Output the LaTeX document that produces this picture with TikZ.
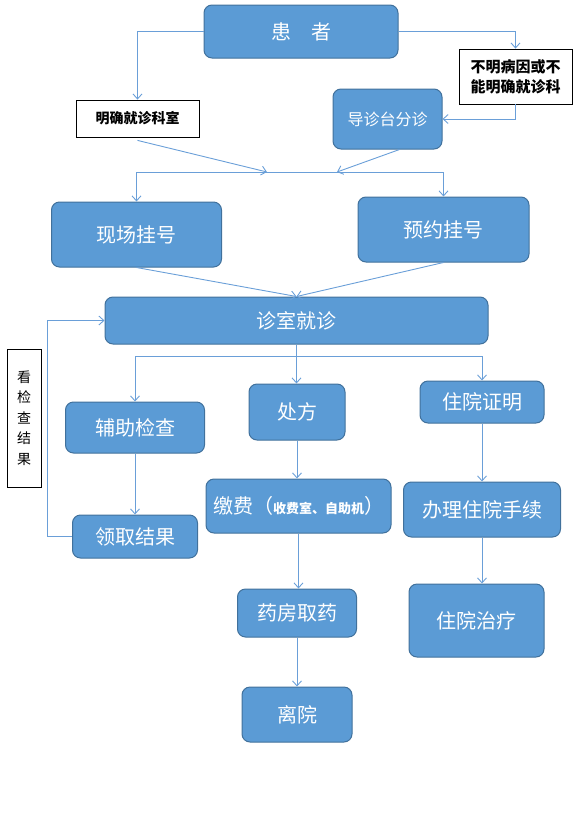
\documentclass[tikz,border=0pt]{standalone}
\usepackage{fontspec}
\setmainfont{Noto Sans CJK SC}
\usetikzlibrary{arrows.meta}
\definecolor{boxblue}{HTML}{5B9BD5}
\definecolor{boxedge}{HTML}{41719C}
\definecolor{lineblue}{HTML}{6A9FD8}
\def\big{\fontsize{20}{20}\selectfont}
\tikzset{
  sz/.style 2 args={minimum width=#1pt, minimum height=#2pt},
  blk/.style={rounded corners=8pt, fill=boxblue, draw=boxedge, line width=1pt, text=white, inner sep=0pt, font=\big},
  wbox/.style={draw=black, fill=white, line width=0.8pt, inner sep=0pt, font=\fontsize{15}{20}\selectfont\bfseries},
  ln/.style={draw=lineblue, line width=0.9pt},
  arr/.style={ln, -{Straight Barb[length=5pt,width=9pt]}}
}

\begin{document}
\begin{tikzpicture}[x=1pt,y=-1pt]
\useasboundingbox (0,0) rectangle (583,827);

\node[blk, sz={194}{53}] (huanzhe) at (301,31.5) {患　者};
\node[wbox, sz={113}{55}, align=center] (buming) at (515.5,76.5) {不明病因或不\\能明确就诊科};
\node[wbox, sz={123}{37}, font=\fontsize{14}{14}\selectfont\bfseries] (mingque) at (137.5,118.5) {明确就诊科室};
\node[blk, sz={109}{60}, font=\fontsize{16}{16}\selectfont] (daozhen) at (387.5,119) {导诊台分诊};
\node[blk, sz={170}{65}] (xianchang) at (136.5,234.5) {现场挂号};
\node[blk, sz={171}{65}] (yuyue) at (443.5,229.5) {预约挂号};
\node[blk, sz={383}{47}] (zhenshi) at (296.5,320.5) {诊室就诊};
\node[draw=black, line width=0.8pt, sz={34}{138}, align=center, font=\fontsize{14}{20.5}\selectfont] (kan) at (24,418) {看\\检\\查\\结\\果};
\node[blk, sz={139}{51}] (fuzhu) at (135,427.5) {辅助检查};
\node[blk, sz={96}{56}] (chufang) at (297,412) {处方};
\node[blk, sz={124}{42}] (zhuyuan) at (482,402) {住院证明};
\node[blk, sz={125}{43}] (lingqu) at (135,536.5) {领取结果};
\node[blk, sz={185}{54}] (jiaofei) at (298.5,506) {缴费（{\fontsize{13}{13}\selectfont\bfseries 收费室、自助机}）};
\node[blk, sz={157}{55}] (banli) at (482,509.5) {办理住院手续};
\node[blk, sz={119}{48}] (yaofang) at (297,613) {药房取药};
\node[blk, sz={110}{55}] (liyuan) at (297,714.5) {离院};
\node[blk, sz={135}{73}] (zhiliao) at (476.5,620.5) {住院治疗};

\coordinate (bus1) at (0,172);
\coordinate (bus2) at (0,356);
\coordinate (m1) at (267,172);
\coordinate (m2) at (337,172);

% top part
\draw[arr] (huanzhe.west) -| (mingque.north);
\draw[arr] (huanzhe.east) -| (buming.north);
\draw[arr] (buming.south) |- (daozhen.east);
\draw[arr] ([yshift=-3pt]mingque.south) -- (m1);
\draw[arr] ([xshift=12pt]daozhen.south) -- (m2);
\draw[arr] (yuyue.north |- bus1) -| (xianchang.north);
\draw[arr] (yuyue.north |- bus1) -- (yuyue.north);
\draw[arr] (xianchang.south) -- (zhenshi.north);
\draw[arr] (yuyue.south) -- (zhenshi.north);

% middle part
\draw[arr] (zhenshi.south) -- (zhenshi.south |- chufang.north);
\draw[arr] (zhenshi.south |- bus2) -| (fuzhu.north);
\draw[arr] (zhenshi.south |- bus2) -| (zhuyuan.north);
\draw[arr] (lingqu.west) -- ++(-25,0) |- (zhenshi.west);
\foreach \a/\b in {fuzhu/lingqu, chufang/jiaofei, jiaofei/yaofang, yaofang/liyuan, zhuyuan/banli, banli/zhiliao}{
	\draw[arr] (\a.south) -- (\a.south |- \b.north);
}
\end{tikzpicture}
\end{document}
